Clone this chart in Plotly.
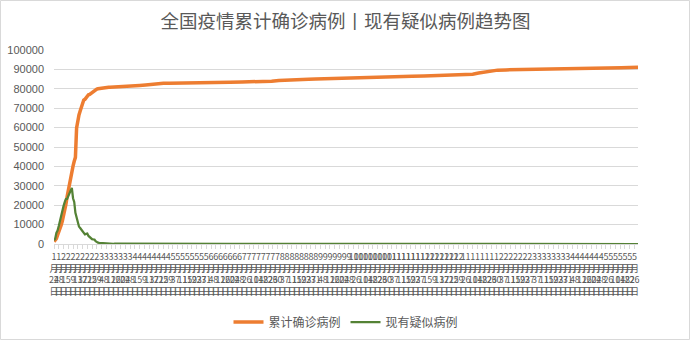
import datetime as dt
import plotly.graph_objects as go

# ---------------- data ----------------
dates = [
    "2020-01-24", "2020-01-25", "2020-01-26", "2020-01-27", "2020-01-28", "2020-01-29",
    "2020-01-30", "2020-01-31", "2020-02-01", "2020-02-02", "2020-02-03", "2020-02-04",
    "2020-02-05", "2020-02-06", "2020-02-07", "2020-02-08", "2020-02-09", "2020-02-10",
    "2020-02-11", "2020-02-12", "2020-02-13", "2020-02-14", "2020-02-15", "2020-02-16",
    "2020-02-17", "2020-02-18", "2020-02-19", "2020-02-20", "2020-02-21", "2020-02-22",
    "2020-02-23", "2020-02-24", "2020-02-25", "2020-02-26", "2020-02-27", "2020-02-28",
    "2020-02-29", "2020-03-01", "2020-03-02", "2020-03-03", "2020-03-04", "2020-03-05",
    "2020-03-06", "2020-03-07", "2020-03-08", "2020-03-09", "2020-03-10", "2020-03-11",
    "2020-03-12", "2020-03-13", "2020-03-14", "2020-03-15", "2020-03-16", "2020-03-17",
    "2020-03-18", "2020-03-19", "2020-03-20",
    "2020-03-25", "2020-03-31", "2020-04-05", "2020-04-10", "2020-04-16", "2020-04-17",
    "2020-04-25", "2020-04-30", "2020-05-10", "2020-05-20", "2020-05-31", "2020-06-10",
    "2020-06-15", "2020-06-20", "2020-06-30", "2020-07-10", "2020-07-20", "2020-07-25",
    "2020-07-31", "2020-08-05", "2020-08-10", "2020-08-15", "2020-08-20", "2020-08-25",
    "2020-08-31", "2020-09-10", "2020-09-20", "2020-09-30", "2020-10-10", "2020-10-20",
    "2020-10-31", "2020-11-10", "2020-11-20", "2020-11-30", "2020-12-10", "2020-12-20",
    "2020-12-31", "2021-01-05", "2021-01-10", "2021-01-15", "2021-01-20", "2021-01-25",
    "2021-01-31", "2021-02-07", "2021-02-15", "2021-02-28", "2021-03-15", "2021-03-31",
    "2021-04-15", "2021-04-30", "2021-05-15", "2021-05-29",
]

confirmed = [
    1287, 1975, 2744, 4515, 5974, 7711,
    9692, 11791, 14380, 17205, 20438, 24324,
    28018, 31161, 34546, 37198, 40171, 42638,
    44653, 59804, 63851, 66492, 68500, 70548,
    72436, 74185, 74576, 75465, 76288, 76936,
    77150, 77658, 78064, 78497, 78824, 79251,
    79824, 80026, 80151, 80270, 80409, 80552,
    80651, 80695, 80735, 80754, 80778, 80793,
    80813, 80824, 80844, 80860, 80881, 80894,
    80928, 80967, 81008,
    81285, 81554, 81708, 81953, 82341, 82692,
    82827, 82874, 82901, 82967, 83017, 83057,
    83181, 83352, 83531, 83585, 83682, 83891,
    84337, 84528, 84668, 84786, 84895, 84981,
    85058, 85168, 85279, 85414, 85557, 85704,
    85997, 86229, 86414, 86542, 86701, 86867,
    87071, 87278, 87536, 88118, 88701, 89197,
    89619, 89736, 89801, 89912, 90020, 90217,
    90427, 90671, 90864, 91061,
]

suspected = [
    1965, 2684, 5794, 6973, 9239, 12167,
    15238, 17988, 19544, 21558, 23214, 23260,
    24702, 26359, 27657, 28942, 23589, 21675,
    16067, 13435, 10109, 8969, 8228, 7264,
    6242, 5248, 4922, 5206, 5365, 4148,
    3434, 2824, 2491, 2358, 2308, 1418,
    851, 715, 587, 520, 522, 482,
    502, 458, 421, 349, 285, 253,
    147, 115, 113, 134, 128, 119,
    105, 104, 106,
    150, 172, 101, 82, 72, 66,
    10, 4, 5, 3, 3, 2,
    7, 3, 5, 2, 3, 2,
    3, 2, 1, 2, 1, 1,
    1, 2, 3, 2, 2, 1,
    1, 2, 1, 1, 1, 2,
    3, 5, 3, 7, 5, 2,
    1, 1, 1, 1, 2, 1,
    1, 1, 1, 2,
]

series_names = ["累计确诊病例", "现有疑似病例"]
title_text = "全国疫情累计确诊病例丨现有疑似病例趋势图"

# category labels along the x axis (every 4 days, stacked vertically)
axis_start = dt.date(2020, 1, 24)
axis_end = dt.date(2021, 5, 29)
tick_dates = []
_d = axis_start
while _d <= axis_end:
    tick_dates.append(_d)
    _d += dt.timedelta(days=4)
tick_vals = [t.isoformat() for t in tick_dates]
tick_labels = [f"{t.month}<br>月<br>{t.day}<br>日" for t in tick_dates]

y_ticks = list(range(0, 100001, 10000))

# ---------------- figure ----------------
W, H = 691, 341
ML, MR, MT, MB = 54, 53, 50, 97
PW, PH = W - ML - MR, H - MT - MB

GRAY_TXT = "#595959"
GRID = "#d9d9d9"

fig = go.Figure()
fig.add_trace(go.Scatter(
    x=dates, y=confirmed, name=series_names[0], mode="lines",
    line=dict(color="#ED7D31", width=3.5), hoverinfo="skip",
))
fig.add_trace(go.Scatter(
    x=dates, y=suspected, name=series_names[1], mode="lines",
    line=dict(color="#548235", width=2.25), hoverinfo="skip",
))

# chart-area border
fig.add_shape(
    type="rect", xref="paper", yref="paper",
    x0=(-ML + 0.5) / PW, x1=(W - ML - 1.5) / PW,
    y0=-(MB - 1.5) / PH, y1=1 + (MT - 0.5) / PH,
    line=dict(color=GRID, width=1), fillcolor="rgba(0,0,0,0)", layer="below",
)

fig.update_layout(
    template="none",
    width=W, height=H,
    margin=dict(l=ML, r=MR, t=MT, b=MB, pad=0, autoexpand=False),
    paper_bgcolor="white", plot_bgcolor="white",
    title=dict(
        text=title_text, x=0.5, xref="container", xanchor="center",
        y=1 - 22 / H, yref="container", yanchor="middle",
        font=dict(family="Noto Sans CJK SC", size=18.5, color=GRAY_TXT),
    ),
    showlegend=True,
    legend=dict(
        orientation="h", x=0.5, xanchor="center", xref="paper",
        y=-(322 - (MT + PH)) / PH, yanchor="middle",
        font=dict(family="Noto Sans CJK SC", size=12, color=GRAY_TXT),
        bgcolor="rgba(0,0,0,0)", itemwidth=30, tracegroupgap=0,
    ),
    xaxis=dict(
        type="date", range=[axis_start.isoformat(), axis_end.isoformat()],
        tickmode="array", tickvals=tick_vals, ticktext=tick_labels, tickangle=0,
        ticks="outside", ticklen=4, tickcolor=GRID, tickwidth=1,
        showline=True, linecolor=GRID, linewidth=1,
        showgrid=False, zeroline=False,
        tickfont=dict(family="Noto Sans CJK SC", size=9, color=GRAY_TXT),
        automargin=False, fixedrange=True,
    ),
    yaxis=dict(
        range=[0, 100000], tickmode="array", tickvals=y_ticks,
        ticktext=[str(v) for v in y_ticks],
        showgrid=True, gridcolor=GRID, gridwidth=1,
        zeroline=False, showline=False, ticks="",
        ticklabelstandoff=9,
        tickfont=dict(family="Liberation Sans", size=11, color=GRAY_TXT),
        automargin=False, fixedrange=True,
    ),
)

fig.write_html("out.html", config={"displayModeBar": False})
